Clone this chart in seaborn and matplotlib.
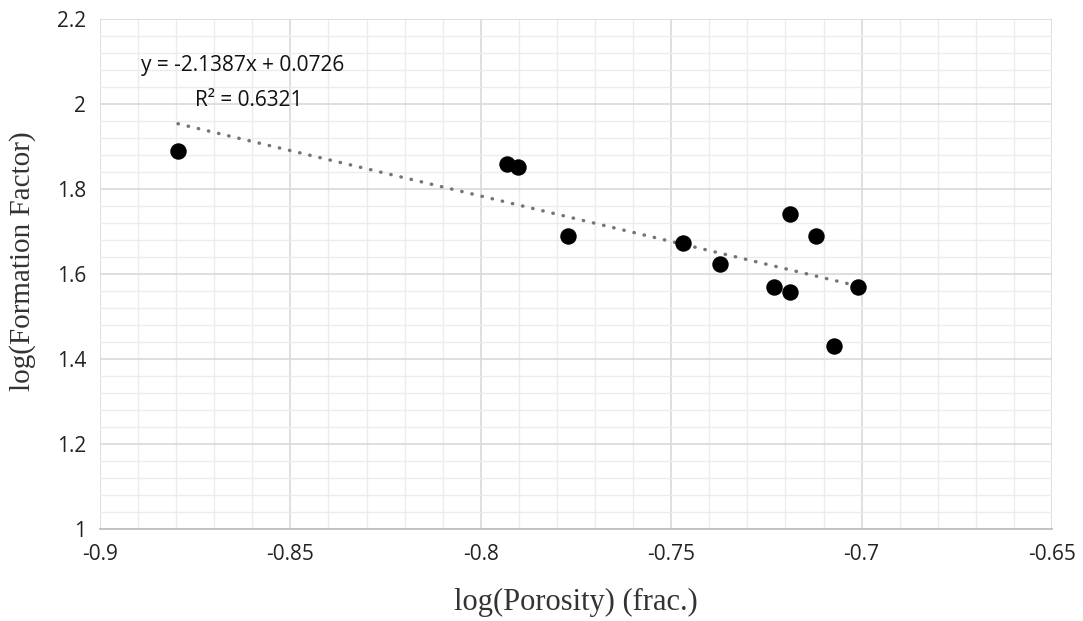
import numpy as np
import pandas as pd
import matplotlib
matplotlib.use("Agg")
import matplotlib.pyplot as plt
from matplotlib.ticker import MultipleLocator
import seaborn as sns

# Measured log(porosity) and log(formation factor) pairs
log_porosity = [-0.8795, -0.7932, -0.7903, -0.7770, -0.7469, -0.7373,
                -0.7231, -0.7187, -0.7187, -0.7120, -0.7073, -0.7009]
log_formation_factor = [1.889, 1.860, 1.852, 1.689, 1.672, 1.623,
                        1.570, 1.557, 1.741, 1.689, 1.431, 1.570]

# Linear trend line coefficients
slope = -2.1387
intercept = 0.0726
r_squared = 0.6321

x_ticks = [-0.9, -0.85, -0.8, -0.75, -0.7, -0.65]
y_ticks = [1.0, 1.2, 1.4, 1.6, 1.8, 2.0, 2.2]

sns.set_style("white")
plt.rcParams["font.family"] = ["Open Sans", "DejaVu Sans"]

df = pd.DataFrame({"phi": log_porosity, "F": log_formation_factor})

fig = plt.figure(figsize=(10.83, 6.21), dpi=100)
ax = fig.add_axes([0.0923, 0.148, 0.8791, 0.8214])

# Trend line across the data range
xl = np.array([min(log_porosity), max(log_porosity)])
ax.plot(xl, slope * xl + intercept, color="#757575", lw=2.5,
        linestyle=(0, (0.1, 2.9)), dash_capstyle="round", zorder=3)

sns.scatterplot(data=df, x="phi", y="F", ax=ax, color="black", s=140,
                edgecolor="black", linewidth=0, zorder=4)

ax.set_xlim(-0.9, -0.65)
ax.set_ylim(1.0, 2.2)
ax.set_xticks(x_ticks)
ax.set_yticks(y_ticks)
ax.set_xticklabels(["-0.9", "-0.85", "-0.8", "-0.75", "-0.7", "-0.65"])
ax.set_yticklabels(["1", "1.2", "1.4", "1.6", "1.8", "2", "2.2"])
ax.xaxis.set_minor_locator(MultipleLocator(0.01))
ax.yaxis.set_minor_locator(MultipleLocator(0.04))

ax.grid(which="major", color="#d9d9d9", lw=1.2)
ax.grid(which="minor", color="#ececec", lw=1.0)
ax.set_axisbelow(True)

for side in ["left", "top", "right"]:
    ax.spines[side].set_visible(False)
ax.spines["bottom"].set_color("#bfbfbf")
ax.spines["bottom"].set_linewidth(1.3)

ax.tick_params(axis="x", which="major", direction="out", length=6,
               color="#bfbfbf", width=1.2, labelsize=15, pad=5,
               labelcolor="#222222")
ax.tick_params(axis="x", which="minor", length=0)
ax.tick_params(axis="y", which="both", length=0, labelsize=15, pad=10,
               labelcolor="#222222")

serif = ["Liberation Serif", "DejaVu Serif"]
ax.set_xlabel("log(Porosity) (frac.)", family=serif, fontsize=22,
              labelpad=16, color="#333333")
ax.set_ylabel("log(Formation Factor)", family=serif, fontsize=21,
              color="#333333")
ax.yaxis.set_label_coords(-0.067, 0.525)

ax.text(-0.8626, 2.090, f"y = {slope:.4f}x + {intercept:.4f}", fontsize=15,
        ha="center", va="center", color="#111111")
ax.text(-0.8609, 2.008, f"R² = {r_squared:.4f}", fontsize=15,
        ha="center", va="center", color="#111111")

fig.savefig("out.png", dpi=100, facecolor="white")
